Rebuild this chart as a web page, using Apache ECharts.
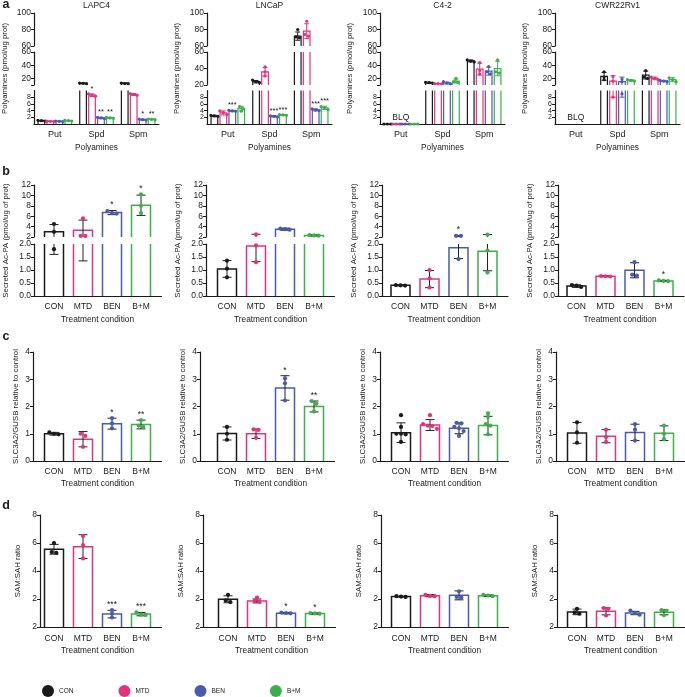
<!DOCTYPE html>
<html>
<head>
<meta charset="utf-8">
<script src="https://cdn.jsdelivr.net/npm/echarts@6/dist/echarts.min.js"></script>
<style>
  html, body { margin: 0; padding: 0; background: #fff; }
  #chart { width: 685px; height: 697px; }
</style>
</head>
<body>
<div id="chart"></div>
<script>
const groups = ['CON', 'MTD', 'BEN', 'B+M'];
const groupColors = ['#1a1a1a', '#e5327c', '#4a5bad', '#3cb04b'];
const cellLines = ['LAPC4', 'LNCaP', 'C4-2', 'CWR22Rv1'];
const polyamines = ['Put', 'Spd', 'Spm'];

// a: polyamines (pmol/ug prot), [cell line][group][Put, Spd, Spm]
const polyMean = [
  [[1.0, 12.5, 12.5], [0.8, 8.6, 8.8], [0.8, 1.8, 1.3], [1.0, 1.8, 1.4]],
  [[2.4, 24, 72], [3.3, 36, 78], [3.9, 2.3, 4.2], [4.6, 2.7, 4.8]],
  [[0, 13.5, 46.5], [0, 12, 34], [0, 13, 31], [0, 16, 35]],
  [[null, 23, 25], [null, 16, 20], [null, 15, 16], [null, 17, 18]]
];
const polySd = [
  [[0.1, 0.8, 0.8], [0.08, 0.4, 0.3], [0.1, 0.2, 0.15], [0.1, 0.2, 0.15]],
  [[0.2, 1.5, 5], [0.6, 5, 9], [0.2, 0.2, 0.3], [0.7, 0.1, 0.5]],
  [[0, 0.8, 1.5], [0, 0.3, 9], [0, 1.5, 6], [0, 3, 11]],
  [[null, 6, 6], [null, 8, 2], [null, 7, 1], [null, 1, 3]]
];
const polyDots = [
  [[[1.0, 1.1, 0.9], [12, 13, 12.5], [12, 13, 12.3]],
   [[0.8, 0.85, 0.75], [8.3, 8.6, 9.0], [8.6, 8.8, 9.1]],
   [[0.8, 0.7, 0.9], [1.6, 1.8, 2.0], [1.2, 1.3, 1.5]],
   [[1.0, 0.9, 1.1], [1.7, 1.8, 2.0], [1.3, 1.4, 1.5]]],
  [[[2.3, 2.4, 2.6], [23, 24, 26], [70, 71, 80]],
   [[2.8, 3.4, 3.9], [31, 36, 42], [72, 74, 90]],
   [[3.8, 3.9, 4.1], [2.1, 2.3, 2.4], [4.0, 4.2, 4.5]],
   [[3.8, 4.6, 5.2], [2.6, 2.7, 2.8], [4.3, 4.8, 5.2]]],
  [[[0, 0, 0], [13, 13.5, 14], [45, 46, 48]],
   [[0, 0, 0], [11.8, 12, 12.2], [27, 32, 44]],
   [[0, 0, 0], [12, 13, 15], [27, 30, 38]],
   [[0, 0, 0], [14, 15, 20], [28, 30, 48]]],
  [[null, [18, 22, 30], [20, 22, 32]],
   [null, [8, 16, 23], [18, 20, 22]],
   [null, [9, 15, 19], [15, 16, 17]],
   [null, [16, 17, 18], [15, 18, 21]]]
];
const polyStars = [
  [['', '', ''], ['', '*', ''], ['', '**', '*'], ['', '**', '**']],
  [['', '', ''], ['', '', ''], ['***', '***', '***'], ['', '***', '***']],
  [['', '', ''], ['', '', ''], ['', '', ''], ['', '', '']],
  [['', '', ''], ['', '', ''], ['', '', ''], ['', '', '']]
];
const polyBlq = [false, false, true, true]; // Put below limit of quantification

// b: secreted Ac-PA (pmol/ug of prot), [cell line][group]
const acpaMean = [[3.0, 3.3, 6.7, 8.1], [1.04, 1.92, 3.5, 2.3], [0.41, 0.65, 1.86, 1.72], [0.38, 0.76, 0.99, 0.58]];
const acpaSd = [[1.4, 1.95, 0.4, 1.95], [0.32, 0.6, 0.2, 0.12], [0.02, 0.33, 0.42, 0.75], [0.05, 0.02, 0.29, 0.02]];
const acpaDots = [
  [[4.5, 3.0, 1.8], [5.6, 2.2, 2.2], [6.5, 6.6, 7.0], [10.2, 8.0, 6.6]],
  [[1.36, 1.05, 0.72], [2.5, 1.95, 1.3], [3.4, 3.5, 3.6], [2.25, 2.3, 2.35]],
  [[0.4, 0.42, 0.41], [1.0, 0.68, 0.33], [2.2, 2.2, 1.42], [2.45, 1.75, 0.9]],
  [[0.35, 0.4, 0.42], [0.75, 0.76, 0.77], [1.3, 0.82, 0.78], [0.57, 0.58, 0.6]]
];
const acpaStars = [['', '', '*', '*'], ['', '', '', ''], ['', '', '*', ''], ['', '', '', '*']];

// c: SLC3A2/GUSB relative to control
const slcMean = [[1.0, 0.8, 1.37, 1.34], [1.01, 1.0, 2.68, 2.0], [1.04, 1.32, 1.2, 1.3], [1.03, 0.91, 1.05, 1.02]];
const slcSd = [[0.05, 0.28, 0.2, 0.16], [0.24, 0.17, 0.45, 0.2], [0.36, 0.2, 0.2, 0.34], [0.38, 0.24, 0.3, 0.27]];
const slcDots = [
  [[1.05, 0.98, 1.0], [1.0, 0.92, 0.52], [1.57, 1.38, 1.2], [1.5, 1.3, 1.25]],
  [[1.25, 1.0, 0.78], [1.16, 1.14, 0.85], [3.03, 2.85, 2.22], [2.2, 2.1, 1.82]],
  [[1.68, 1.25, 1.0, 0.98, 1.0, 0.7], [1.68, 1.35, 1.3, 1.28, 1.18], [1.4, 1.38, 1.25, 1.2, 1.1, 0.92], [1.75, 1.62, 1.35, 1.3, 0.98]],
  [[1.42, 1.05, 0.67], [1.15, 0.88, 0.7], [1.35, 1.15, 0.75], [1.3, 1.0, 0.8]]
];
const slcStars = [['', '', '*', '**'], ['', '', '*', '**'], ['', '', '', ''], ['', '', '', '']];

// d: SAM:SAH ratio
const samMean = [[5.55, 5.74, 0.92, 0.92], [1.98, 1.86, 0.99, 0.96], [2.17, 2.24, 2.26, 2.24], [1.08, 1.12, 1.0, 1.05]];
const samSd = [[0.35, 0.85, 0.27, 0.12], [0.25, 0.14, 0.05, 0.05], [0.03, 0.08, 0.32, 0.05], [0.2, 0.25, 0.12, 0.18]];
const samDots = [
  [[6.0, 5.35, 5.3], [6.5, 5.85, 4.9], [1.2, 0.95, 0.68], [1.05, 0.88, 0.86]],
  [[2.3, 1.9, 1.78], [2.1, 1.86, 1.8], [1.03, 1.0, 0.98], [1.0, 0.97, 0.95]],
  [[2.2, 2.17, 2.15], [2.3, 2.22, 2.2], [2.55, 2.15, 2.1], [2.3, 2.25, 2.2]],
  [[1.3, 1.05, 0.95], [1.35, 1.3, 0.82], [1.18, 1.0, 0.88], [1.2, 1.15, 0.84]]
];
const samStars = [['', '', '***', '***'], ['', '', '*', '*'], ['', '', '', ''], ['', '', '', '']];

const FONT = '"Liberation Sans", Arial, Helvetica, sans-serif';
const INK = '#1a1a1a';
const axisLine = { color: INK, width: 1.2 };

const grids = [], xAxis = [], yAxis = [], series = [], graphics = [];

function addGrid(left, top, width, height) {
  grids.push({ left, top, width, height });
  return grids.length - 1;
}

function textEl(text, x, y, size, weight) {
  return {
    type: 'text', x, y,
    style: {
      text, fontSize: size, fontWeight: weight || 'normal', fontFamily: FONT, fill: INK,
      align: 'center', verticalAlign: 'middle', textAlign: 'center', textVerticalAlign: 'middle'
    }
  };
}

function shownValueAxis(gi, seg) {
  const ax = {
    type: 'value', gridIndex: gi, min: seg.min, max: seg.max,
    axisLine: { show: true, lineStyle: axisLine },
    axisTick: { show: true, length: 3, lineStyle: { color: INK, width: 1 } },
    axisLabel: { fontSize: seg.fontSize || 8.5, color: INK, fontFamily: FONT, margin: 3, formatter: seg.fmt },
    splitLine: { show: false }
  };
  if (seg.ticks) {
    ax.axisTick.customValues = seg.ticks;
    ax.axisLabel.customValues = seg.labels;
  } else {
    ax.interval = seg.interval;
  }
  yAxis.push(ax);
  return yAxis.length - 1;
}

function barSeries(bar, seg, xi, yi, st) {
  return {
    type: 'custom', name: bar.name, xAxisIndex: xi, yAxisIndex: yi, silent: true,
    itemStyle: { color: bar.color },
    encode: { x: 0, y: 1 },
    data: bar.points.map(p => [p.cat, p.mean]),
    renderItem(params, api) {
      const p = bar.points[params.dataIndex];
      const band = api.size([1, 0])[0];
      const cx = api.coord([p.cat, seg.min])[0] + bar.slot * band * st.step;
      const hw = band * st.barW / 2;
      const yOf = v => api.coord([p.cat, v])[1];
      const eps = 1e-9;
      const inSeg = v => v >= seg.min - eps && v <= seg.max + eps;
      const kids = [];
      const stroke = { stroke: bar.color, lineWidth: st.lw, fill: null };
      const yBase = yOf(Math.max(0, seg.min));
      // bar outline (open where the axis is broken)
      if (p.mean >= seg.min) {
        if (p.mean <= seg.max) {
          const yt = yOf(p.mean);
          kids.push({ type: 'polyline', shape: { points: [[cx - hw, yBase], [cx - hw, yt], [cx + hw, yt], [cx + hw, yBase]] }, style: stroke });
        } else {
          const yt = yOf(seg.max);
          kids.push({ type: 'line', shape: { x1: cx - hw, y1: yBase, x2: cx - hw, y2: yt }, style: stroke });
          kids.push({ type: 'line', shape: { x1: cx + hw, y1: yBase, x2: cx + hw, y2: yt }, style: stroke });
        }
      }
      // error bar
      const errStyle = { stroke: st.errColor || bar.color, lineWidth: 1 };
      if (p.sd > 0) {
        const lo = p.mean - p.sd, hi = p.mean + p.sd;
        const a = Math.max(lo, seg.min), b = Math.min(hi, seg.max);
        if (b > a) {
          kids.push({ type: 'line', shape: { x1: cx, y1: yOf(a), x2: cx, y2: yOf(b) }, style: errStyle });
          if (inSeg(hi)) kids.push({ type: 'line', shape: { x1: cx - st.cap, y1: yOf(hi), x2: cx + st.cap, y2: yOf(hi) }, style: errStyle });
          if (inSeg(lo)) kids.push({ type: 'line', shape: { x1: cx - st.cap, y1: yOf(lo), x2: cx + st.cap, y2: yOf(lo) }, style: errStyle });
        }
      }
      // replicate dots, spread sideways when they overlap
      const ys = p.dots.filter(inSeg).map(yOf).sort((m, n) => m - n);
      let i = 0;
      while (i < ys.length) {
        let j = i;
        while (j + 1 < ys.length && ys[j + 1] - ys[j] < st.dotR * 1.6) j++;
        const k = j - i + 1;
        for (let m = 0; m < k; m++) {
          kids.push({ type: 'circle', shape: { cx: cx + (m - (k - 1) / 2) * st.dotR * 2.2, cy: ys[i + m], r: st.dotR }, style: { fill: bar.color } });
        }
        i = j + 1;
      }
      // significance
      if (p.star) {
        const top = Math.max(p.mean + p.sd, ...p.dots);
        if ((top > seg.min || seg.min === 0) && top <= seg.max + eps) {
          kids.push({
            type: 'text',
            style: {
              text: p.star, x: cx, y: yOf(top) - 1, fontSize: st.starSize, fontFamily: FONT, fill: INK,
              align: 'center', verticalAlign: 'bottom', textAlign: 'center', textVerticalAlign: 'bottom'
            }
          });
        }
      }
      return { type: 'group', children: kids };
    }
  };
}

function buildPanel(cfg) {
  const segs = cfg.segs;
  segs.forEach((seg, si) => {
    const isBottom = si === segs.length - 1;
    const h = seg.bottom - seg.top;
    const dgi = addGrid(cfg.dataLeft, seg.top, cfg.dataWidth, h);
    let dataY;
    if (cfg.framed) {
      const fgi = addGrid(cfg.axisX, seg.top, cfg.frameRight - cfg.axisX, h);
      xAxis.push({
        type: 'value', gridIndex: fgi, min: 0, max: 1, show: isBottom,
        axisLine: { show: true, lineStyle: axisLine }, axisTick: { show: false },
        axisLabel: { show: false }, splitLine: { show: false }
      });
      shownValueAxis(fgi, seg);
      yAxis.push({ type: 'value', gridIndex: dgi, min: seg.min, max: seg.max, show: false });
      dataY = yAxis.length - 1;
    } else {
      dataY = shownValueAxis(dgi, seg);
    }
    xAxis.push({
      type: 'category', gridIndex: dgi, data: cfg.cats, show: isBottom, boundaryGap: true,
      axisLine: { show: !cfg.framed, lineStyle: axisLine }, axisTick: { show: false },
      axisLabel: { fontSize: cfg.catSize, color: INK, fontFamily: FONT, margin: cfg.labelMargin, interval: 0 },
      splitLine: { show: false },
      name: cfg.xName, nameLocation: 'middle', nameGap: cfg.xNameGap,
      nameTextStyle: { fontSize: 8.3, color: INK, fontFamily: FONT }
    });
    const dataX = xAxis.length - 1;
    cfg.bars.forEach(b => series.push(barSeries(b, seg, dataX, dataY, cfg.style)));
    if (isBottom && cfg.extra) cfg.extra(dataX, dataY).forEach(s => series.push(s));
  });
  // axis title grid spanning the whole (possibly broken) panel
  const top = segs[0].top, bottom = segs[segs.length - 1].bottom;
  const ngi = addGrid(cfg.axisX, top, 1, bottom - top);
  xAxis.push({ type: 'value', gridIndex: ngi, show: false });
  yAxis.push({
    type: 'value', gridIndex: ngi, min: 0, max: 1,
    axisLine: { show: false }, axisTick: { show: false }, axisLabel: { show: false }, splitLine: { show: false },
    name: cfg.yName, nameLocation: 'middle', nameGap: cfg.yNameGap,
    nameTextStyle: { fontSize: 7.8, color: INK, fontFamily: FONT }
  });
}

const styleA = { step: 0.215, barW: 0.16, lw: 1.2, dotR: 1.6, cap: 2.5, errColor: null, starSize: 7.5 };
const styleB = { step: 0, barW: 0.655, lw: 1.5, dotR: 2.1, cap: 4.5, errColor: '#222', starSize: 8.5 };

// ---- row a
const axisXA = [34, 207, 380, 555];
const midMinA = [10, 20, 10, 10];
cellLines.forEach((line, i) => {
  const bars = groups.map((g, gi) => ({
    name: g, color: groupColors[gi], slot: gi - 1.5,
    points: polyamines.map((c, ci) => ({
      cat: ci, mean: polyMean[i][gi][ci], sd: polySd[i][gi][ci],
      dots: polyDots[i][gi][ci] || [], star: polyStars[i][gi][ci]
    })).filter(p => p.mean !== null)
  }));
  const midMin = midMinA[i];
  buildPanel({
    framed: false, axisX: axisXA[i], dataLeft: axisXA[i], dataWidth: 125,
    cats: polyamines, catSize: 9, xName: 'Polyamines', xNameGap: 20, labelMargin: 6,
    yName: 'Polyamines (pmol/ug prot)', yNameGap: 26,
    style: styleA, bars,
    segs: [
      { min: 60, max: 100, interval: 20, top: 13, bottom: 46 },
      { min: midMin, max: 60, ticks: midMin === 10 ? [10, 20, 40, 60] : [20, 40, 60], labels: [20, 40, 60], top: 52, bottom: 85 },
      { min: 0, max: 10, interval: 2, top: 90.5, bottom: 124, fontSize: 7 }
    ],
    extra: (xi, yi) => polyBlq[i] ? [{
      type: 'custom', xAxisIndex: xi, yAxisIndex: yi, silent: true,
      encode: { x: 0, y: 1 }, data: [[0, 0]],
      renderItem(params, api) {
        const pt = api.coord([0, 0]);
        return {
          type: 'text',
          style: {
            text: 'BLQ', x: pt[0], y: pt[1] - 1.5, fontSize: 8.5, fontFamily: FONT, fill: INK,
            align: 'center', verticalAlign: 'bottom', textAlign: 'center', textVerticalAlign: 'bottom'
          }
        };
      }
    }] : []
  });
  graphics.push(textEl(line, axisXA[i] + 62.5, 6, 8.5));
});

// ---- rows b, c, d
function groupBars(mean, sd, dots, stars, i) {
  return groups.map((g, gi) => ({
    name: g, color: groupColors[gi], slot: 0,
    points: [{ cat: gi, mean: mean[i][gi], sd: sd[i][gi], dots: dots[i][gi], star: stars[i][gi] }]
  }));
}

const rowsBCD = [
  {
    axisX: [34, 206, 382, 558], firstBar: [54, 227, 400.5, 576.5],
    yName: 'Secreted Ac-PA (pmol/ug of prot)', yNameGap: 24, xNameGap: 20, labelMargin: 6,
    data: [acpaMean, acpaSd, acpaDots, acpaStars],
    segs: [
      { min: 2, max: 12, interval: 2, top: 185, bottom: 237 },
      { min: 0, max: 2, interval: 0.5, top: 244, bottom: 296, fmt: v => v.toFixed(1) }
    ]
  },
  {
    axisX: [33, 200, 380, 556], firstBar: [54, 227, 401, 577],
    yName: 'SLC3A2/GUSB relative to control', yNameGap: 13, xNameGap: 19, labelMargin: 6,
    data: [slcMean, slcSd, slcDots, slcStars],
    segs: [{ min: 0, max: 4, interval: 1, top: 352, bottom: 461 }]
  },
  {
    axisX: [40, 203, 381, 557], firstBar: [54, 228, 401, 577],
    yName: 'SAM:SAH ratio', yNameGap: 18, xNameGap: 20, labelMargin: 7,
    data: [samMean, samSd, samDots, samStars],
    segs: [{ min: 0, max: 8, interval: 2, top: 515, bottom: 627, fmt: v => (v === 0 ? '2' : String(v)) }]
  }
];

rowsBCD.forEach(row => {
  cellLines.forEach((line, i) => {
    const dataLeft = row.firstBar[i] - 14.5;
    buildPanel({
      framed: true, axisX: row.axisX[i], dataLeft, dataWidth: 116, frameRight: dataLeft + 116 + 6,
      cats: groups, catSize: 8.5, xName: 'Treatment condition', xNameGap: row.xNameGap, labelMargin: row.labelMargin,
      yName: row.yName, yNameGap: row.yNameGap,
      style: styleB, segs: row.segs,
      bars: groupBars(row.data[0], row.data[1], row.data[2], row.data[3], i)
    });
  });
});

// panel letters
[['a', 5], ['b', 172], ['c', 337], ['d', 506]].forEach(([t, y]) => {
  graphics.push(textEl(t, 6, y, 12.5, 'bold'));
});

const chart = echarts.init(document.getElementById('chart'));
chart.setOption({
  animation: false,
  backgroundColor: '#fff',
  textStyle: { fontFamily: FONT },
  grid: grids,
  xAxis,
  yAxis,
  series,
  graphic: graphics,
  legend: {
    data: groups, icon: 'circle', left: 37, top: 680,
    itemWidth: 12, itemHeight: 12, itemGap: 45, selectedMode: false,
    textStyle: { fontSize: 6.5, color: INK, fontFamily: FONT }
  }
});
</script>
</body>
</html>
